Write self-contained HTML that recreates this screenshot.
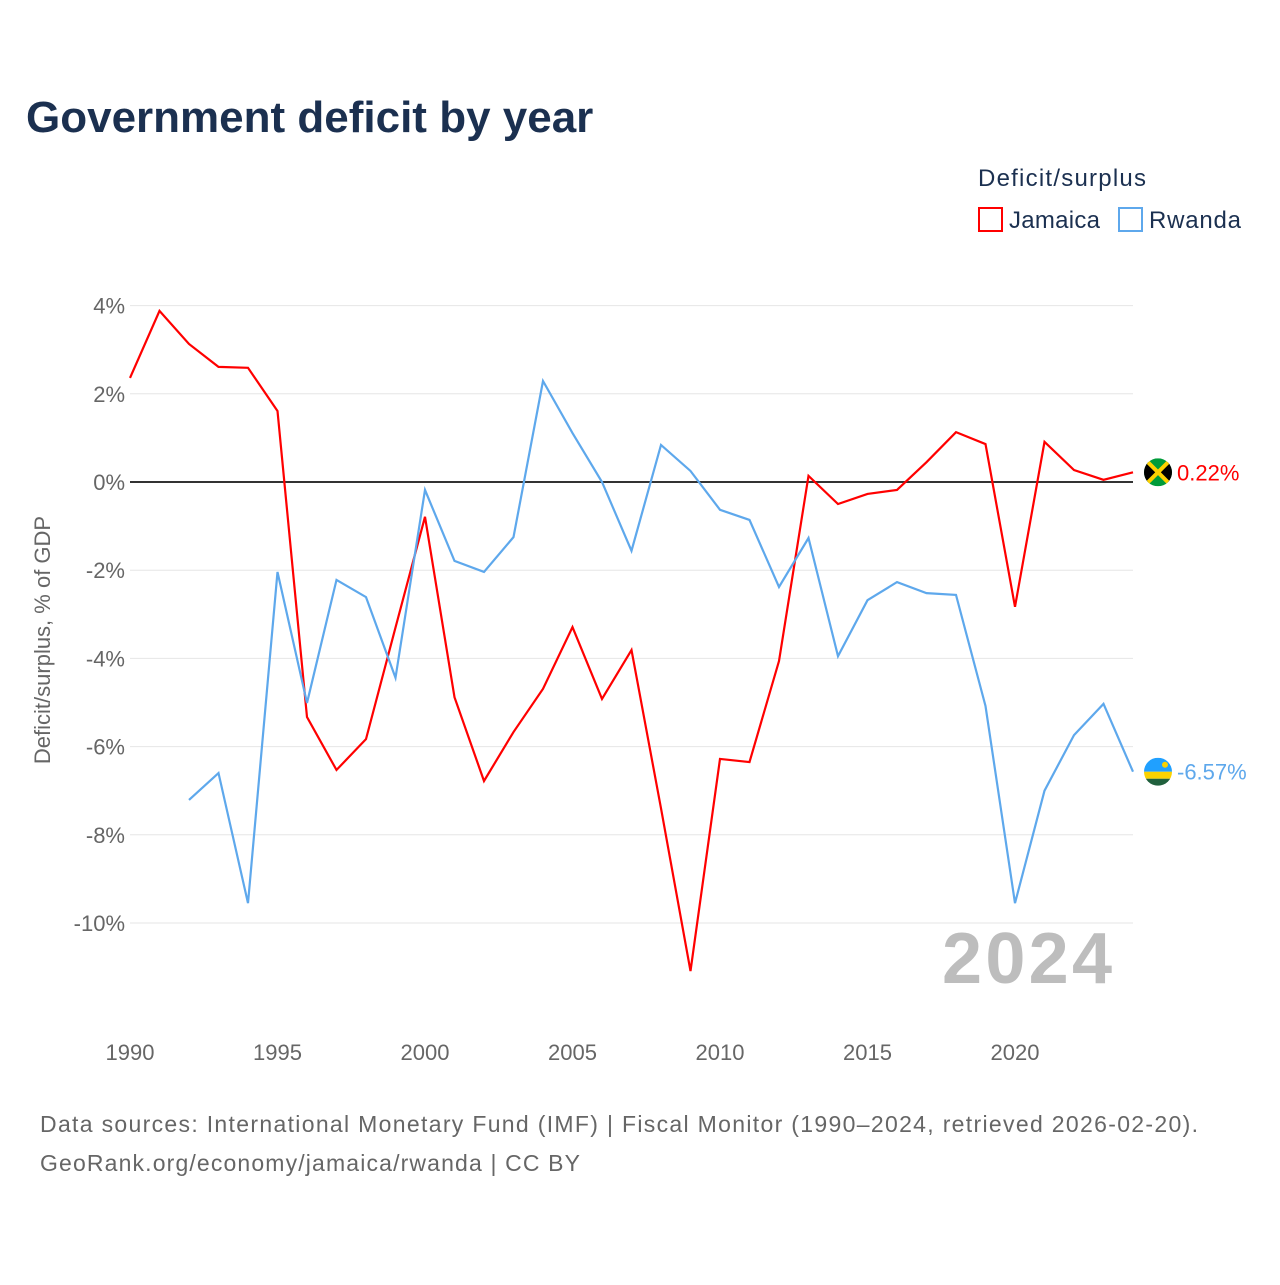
<!DOCTYPE html>
<html><head><meta charset="utf-8"><style>
body{margin:0;background:#fff;font-family:"Liberation Sans",sans-serif}
svg text{font-family:"Liberation Sans",sans-serif}
</style></head><body>
<svg id="chart" width="1280" height="1280">
<defs>
<clipPath id="cj"><circle cx="0" cy="0" r="14"/></clipPath>
</defs>
<text x="26" y="132" font-size="44" font-weight="bold" fill="#1b3050">Government deficit by year</text>
<text x="978" y="186" font-size="24" fill="#1b3050" textLength="168">Deficit/surplus</text>
<g><rect x="979" y="208" width="23" height="23" fill="none" stroke="#f00" stroke-width="2"/><text x="1009" y="228" font-size="24" fill="#1b3050" textLength="91">Jamaica</text></g>
<g><rect x="1119" y="208" width="23" height="23" fill="none" stroke="#5ea8ec" stroke-width="2"/><text x="1149" y="228" font-size="24" fill="#1b3050" textLength="92">Rwanda</text></g>
<text transform="translate(50,640) rotate(-90)" text-anchor="middle" font-size="22" fill="#666">Deficit/surplus, % of GDP</text>
<text x="942" y="983" font-size="72" font-weight="bold" fill="#bdbdbd" textLength="170">2024</text>
<g id="grid"></g><g id="series"></g>
<text x="40" y="1132" font-size="23" fill="#666" textLength="1158">Data sources: International Monetary Fund (IMF) | Fiscal Monitor (1990–2024, retrieved 2026-02-20).</text>
<text x="40" y="1171" font-size="23" fill="#666" textLength="540">GeoRank.org/economy/jamaica/rwanda | CC BY</text>
</svg>
<script>
const years=[];for(let y=1990;y<=2024;y++)years.push(y);
const jamaica=[2.36,3.88,3.13,2.61,2.59,1.61,-5.33,-6.53,-5.83,-3.3,-0.79,-4.88,-6.78,-5.67,-4.69,-3.29,-4.92,-3.81,-7.4,-11.09,-6.28,-6.35,-4.06,0.14,-0.5,-0.27,-0.18,0.45,1.13,0.86,-2.83,0.91,0.27,0.05,0.22];
const rwanda=[null,null,-7.21,-6.6,-9.55,-2.04,-5.01,-2.22,-2.61,-4.44,-0.18,-1.79,-2.04,-1.25,2.29,1.11,0,-1.56,0.84,0.25,-0.63,-0.86,-2.38,-1.27,-3.95,-2.68,-2.27,-2.52,-2.56,-5.08,-9.55,-7.0,-5.74,-5.03,-6.57];
const yTicks=[4,2,0,-2,-4,-6,-8,-10];
const xTicks=[1990,1995,2000,2005,2010,2015,2020];
const X=y=>130+(y-1990)*29.5, Y=v=>482-v*44.1;
const NS="http://www.w3.org/2000/svg";
const g=document.getElementById('grid'), s=document.getElementById('series');
function el(t,a,p){const e=document.createElementNS(NS,t);for(const k in a)e.setAttribute(k,a[k]);p.appendChild(e);return e;}
yTicks.forEach(v=>{
 const l=el('line',{x1:130,x2:1133,y1:Y(v),y2:Y(v),stroke:v===0?'#333':'#e6e6e6','stroke-width':v===0?2:1},g);
 
 
 const t=el('text',{x:125,y:Y(v)+8,'text-anchor':'end','font-size':22,fill:'#666'},g);t.textContent=v+'%';
 
 
});
xTicks.forEach(v=>{
 const t=el('text',{x:X(v),y:1060,'text-anchor':'middle','font-size':22,fill:'#666'},g);t.textContent=v;
 
 
});
function flag(name,cy){
 const f=el('g',{transform:'translate(1158,'+cy+')','clip-path':'url(#cj)'},s);
 
 
 if(name==='jamaica'){
  el('rect',{x:-14,y:-14,width:28,height:28,fill:'#009b3a'},f);
  el('path',{d:'M-14 -14L0 0L-14 14Z M14 -14L0 0L14 14Z',fill:'#000'},f);
  el('path',{d:'M-14 -14L14 14M14 -14L-14 14',stroke:'#fed100','stroke-width':4},f);
 } else {
  el('rect',{x:-14,y:-14,width:28,height:14,fill:'#20a0ff'},f);
  el('rect',{x:-14,y:0,width:28,height:7,fill:'#fad201'},f);
  el('rect',{x:-14,y:7,width:28,height:7,fill:'#20603d'},f);
  el('circle',{cx:7,cy:-7,r:3,fill:'#fad201'},f);
 }
}
function line(data,color,name){
 let d='';data.forEach((v,i)=>{if(v===null)return;d+=(d?'L':'M')+X(years[i])+' '+Y(v);});
 const p=el('path',{d:d,fill:'none',stroke:color,'stroke-width':2.2},s);
 
 
 const last=data[data.length-1];
 flag(name,Y(last));
 const t=el('text',{x:1177,y:Y(last)+8,'font-size':22,fill:color},s);t.textContent=last.toFixed(2)+'%';
 
 
}
line(jamaica,'#f00','jamaica');
line(rwanda,'#5ea8ec','rwanda');
</script>
</body></html>
